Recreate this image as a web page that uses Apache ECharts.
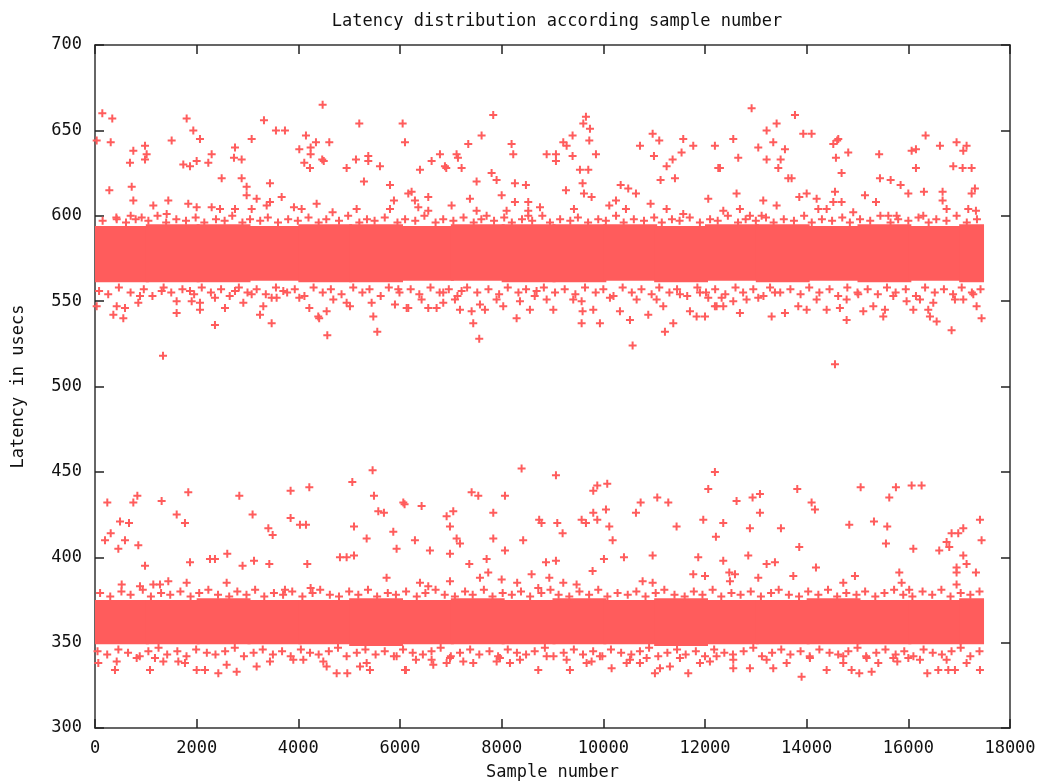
<!DOCTYPE html>
<html>
<head>
	<meta charset="utf-8">
	<title>Latency distribution</title>
	<script src="https://cdn.jsdelivr.net/npm/echarts@6/dist/echarts.min.js"></script>
	<style>
	html, body { margin: 0; height: 100%; background: #fff; }
	#main { width: 1042px; height: 781px; }
	</style>
</head>
<body>
	<div id="main"></div>
	<script>
		var xTicks = [0, 18000, 2000];
		var yTicks = [300, 700, 50];

		// dense core of each band: bin start, bin end, low edge, high edge
		var binStarts = [0, 1000, 2000, 3000, 4000, 5000, 6000, 7000, 8000, 9000, 10000, 11000, 12000, 13000, 14000, 15000, 16000, 17000];
		var lastSample = 17430;
		var upperHi = [594, 595, 595, 594, 595, 595, 594, 595, 595, 595, 595, 594, 595, 595, 594, 595, 594, 595];
		var upperLo = [561, 561, 561, 562, 561, 561, 562, 562, 561, 561, 562, 561, 562, 561, 562, 561, 562, 561];
		var lowerHi = [375, 375, 376, 375, 375, 376, 375, 376, 375, 376, 375, 376, 375, 375, 376, 375, 375, 376];
		var lowerLo = [349, 349, 349, 349, 349, 348, 349, 349, 349, 349, 349, 348, 349, 349, 349, 349, 349, 349];

		// crowded edges just outside each core
		var upperTopFringe = [
			[150,597],[420,599],[610,596],[800,598],[1050,597],[1230,600],[1400,596],[1600,598],[1790,597],[1980,599],[2150,596],[2380,598],
			[2550,597],[2700,600],[2900,596],[3050,598],[3250,597],[3400,599],[3600,596],[3800,598],[3990,597],[4200,599],[4400,596],
			[4550,598],[4800,597],[4980,600],[5200,596],[5350,598],[5500,597],[5700,599],[5950,596],[6100,598],[6300,597],[6480,600],
			[6700,596],[6850,598],[7050,597],[7250,599],[7450,596],[7600,598],[7850,597],[8050,599],[8200,596],[8400,598],[8600,597],
			[8800,600],[8950,596],[9150,598],[9350,597],[9500,599],[9700,596],[9900,598],[10050,597],[10250,600],[10400,596],[10600,598],
			[10800,597],[11000,599],[11150,596],[11350,598],[11500,597],[11700,599],[11900,596],[12100,598],[12250,597],[12450,600],
			[12650,596],[12800,598],[13000,597],[13200,599],[13350,596],[13550,598],[13750,597],[13950,600],[14100,596],[14300,598],
			[14500,597],[14700,599],[14850,596],[15050,598],[15250,597],[15450,600],[15650,596],[15800,598],[16000,597],[16200,599],
			[16400,596],[16550,598],[16750,597],[16950,600],[17150,596],[17350,598]
		];
		var upperBottomFringe = [
			[80,556],[260,554],[470,558],[700,555],[960,557],[1130,553],[1350,558],[1500,555],[1720,557],[1950,554],[2100,558],[2280,555],
			[2480,557],[2650,553],[2830,558],[3000,555],[3180,557],[3360,554],[3560,558],[3780,555],[3930,557],[4120,553],[4300,558],
			[4480,555],[4640,557],[4850,554],[5080,558],[5260,555],[5400,557],[5620,553],[5780,558],[5990,555],[6210,557],[6380,554],
			[6600,558],[6780,555],[6960,557],[7130,553],[7320,558],[7520,555],[7740,557],[7950,554],[8120,558],[8330,555],[8480,557],
			[8650,553],[8830,558],[9050,555],[9240,557],[9450,554],[9640,558],[9850,555],[10000,557],[10200,553],[10380,558],[10560,555],
			[10750,557],[10950,554],[11100,558],[11300,555],[11450,557],[11650,553],[11850,558],[12020,555],[12200,557],[12400,554],
			[12600,558],[12750,555],[12950,557],[13150,553],[13280,558],[13480,555],[13680,557],[13880,554],[14050,558],[14250,555],
			[14450,557],[14620,553],[14800,558],[15000,555],[15200,557],[15400,554],[15580,558],[15750,555],[15950,557],[16150,553],
			[16330,558],[16520,555],[16700,557],[16880,554],[17050,558],[17250,555],[17420,557]
		];
		var lowerTopFringe = [
			[100,379],[300,377],[520,380],[700,378],[940,381],[1100,377],[1300,379],[1480,378],[1680,380],[1880,377],[2050,379],[2230,381],
			[2420,378],[2640,377],[2800,380],[2980,378],[3150,381],[3330,377],[3520,379],[3700,378],[3880,380],[4080,377],[4280,379],
			[4430,381],[4620,378],[4800,377],[5000,380],[5180,378],[5370,381],[5550,377],[5760,379],[5920,378],[6120,380],[6330,377],
			[6500,379],[6700,381],[6880,378],[7080,377],[7280,380],[7430,378],[7650,381],[7820,377],[8020,379],[8200,378],[8380,380],
			[8560,377],[8780,379],[8960,381],[9120,378],[9330,377],[9530,380],[9720,378],[9900,381],[10080,377],[10280,379],[10480,378],
			[10650,380],[10830,377],[11030,379],[11200,381],[11400,378],[11600,377],[11780,380],[11950,378],[12150,381],[12320,377],
			[12520,379],[12700,378],[12900,380],[13100,377],[13300,379],[13450,381],[13650,378],[13850,377],[14030,380],[14230,378],
			[14420,381],[14600,377],[14780,379],[14980,378],[15150,380],[15350,377],[15530,379],[15720,381],[15900,378],[16080,377],
			[16280,380],[16470,378],[16650,381],[16830,377],[17030,379],[17220,378],[17400,380]
		];
		var lowerBottomFringe = [
			[50,345],[240,343],[460,346],[650,344],[880,342],[1050,345],[1250,347],[1420,343],[1620,345],[1800,342],[1990,346],[2200,344],
			[2370,343],[2560,345],[2750,347],[2930,342],[3120,344],[3300,346],[3500,343],[3680,345],[3850,342],[4050,346],[4230,344],
			[4400,343],[4600,345],[4780,347],[4950,342],[5150,344],[5320,346],[5520,343],[5700,345],[5880,342],[6060,346],[6250,344],
			[6450,343],[6620,345],[6800,347],[7000,342],[7180,344],[7380,346],[7560,343],[7760,345],[7930,342],[8120,346],[8300,344],
			[8480,343],[8650,345],[8850,347],[9020,342],[9220,344],[9420,346],[9600,343],[9800,345],[9980,342],[10150,346],[10350,344],
			[10550,343],[10720,345],[10900,347],[11080,342],[11260,344],[11450,346],[11620,343],[11820,345],[12000,342],[12180,346],
			[12380,344],[12550,343],[12760,345],[12950,347],[13120,342],[13320,344],[13500,346],[13680,343],[13880,345],[14060,342],
			[14250,346],[14450,344],[14620,343],[14820,345],[15000,347],[15170,342],[15370,344],[15550,346],[15750,343],[15920,345],
			[16100,342],[16300,346],[16480,344],[16660,343],[16850,345],[17030,347],[17220,342],[17400,345]
		];

		var upperAbove = [
			[144,660],[340,657],[33,644],[309,643],[1803,657],[1934,650],[2065,645],[984,641],[754,638],[1016,636],[984,633],[688,631],
			[1508,644],[1737,630],[1869,629],[2000,632],[2229,631],[2295,636],[2754,640],[2734,634],[2885,633],[3082,645],[3324,656],
			[3560,650],[3737,650],[4150,647],[4478,665],[4347,643],[4609,643],[4019,639],[4242,640],[4242,636],[4117,631],[4229,628],
			[4470,633],[4500,632],[5199,654],[6052,654],[6098,643],[5134,633],[5376,635],[5376,632],[4950,628],[5606,629],[5291,620],
			[5803,618],[6163,613],[282,615],[722,617],[754,609],[702,600],[2492,622],[2885,622],[2983,617],[2983,612],[3442,619],
			[3180,610],[3672,611],[3442,608],[1442,609],[1147,606],[1835,607],[2000,605],[2295,605],[2459,604],[2754,604],[3082,604],
			[3377,606],[3914,605],[4065,604],[4360,607],[4674,602],[5147,604],[5803,604],[5881,609],[1410,601],[427,598],[918,599],
			[7834,659],[7605,647],[7343,642],[6786,636],[6622,632],[6393,627],[7113,636],[7140,634],[6884,629],[6910,628],[7212,628],
			[7507,620],[7802,625],[7900,621],[8195,642],[8228,636],[8261,619],[8477,618],[8000,612],[8261,608],[8523,608],[7376,610],
			[7015,606],[6228,614],[6294,609],[6360,605],[6556,611],[6556,603],[7507,603],[7704,600],[8097,603],[8523,603],[8523,600],
			[8754,605],[8885,636],[9068,636],[9068,632],[9212,643],[9278,641],[9395,647],[9395,635],[9540,627],[9704,627],[9592,619],
			[9619,613],[9658,658],[9606,654],[9737,651],[9724,644],[9855,636],[9265,615],[9422,604],[9769,611],[10117,606],[10249,609],
			[10341,618],[10490,616],[10642,613],[10445,604],[10721,641],[10970,648],[11100,644],[10996,635],[11245,629],[11363,633],
			[11126,621],[11409,622],[11572,645],[11769,641],[11539,637],[12195,641],[12261,628],[11245,604],[10930,607],[11572,601],
			[12064,610],[12917,663],[13770,659],[13409,654],[13212,650],[12556,645],[13343,643],[13048,640],[13573,639],[12654,634],
			[13212,633],[13488,633],[12294,628],[13442,628],[13638,622],[13704,622],[13933,648],[14097,648],[14524,642],[14600,644],
			[14622,645],[14818,637],[14576,634],[14687,625],[15426,636],[15442,622],[15652,621],[15848,618],[16000,613],[16065,638],
			[16150,639],[16150,628],[16340,647],[16307,614],[16622,641],[16674,614],[16674,609],[16753,604],[16949,643],[17146,641],
			[17081,638],[16884,629],[17068,628],[17245,628],[17245,613],[17310,616],[17179,604],[17330,603],[12621,613],[13146,609],
			[13409,606],[13855,611],[14000,613],[14196,610],[14229,604],[14393,604],[14557,614],[14524,608],[14687,608],[15147,612],
			[15364,608],[12687,604],[12360,603],[12884,600],[13114,600],[14916,602],[15606,600],[15770,600],[16294,600]
		];

		var upperBelow = [
			[33,547],[361,542],[557,540],[427,547],[590,546],[852,549],[885,553],[1312,556],[1606,550],[1606,543],[1869,556],[1902,550],
			[2065,549],[2065,545],[2360,536],[2557,546],[2360,552],[2754,556],[2918,549],[3082,554],[3246,542],[3311,547],[3475,537],
			[3475,552],[3573,552],[3704,556],[4019,552],[4216,546],[4392,541],[4410,540],[4570,530],[4557,544],[4688,551],[4950,549],
			[5016,547],[5475,541],[5553,532],[5442,549],[5901,548],[5967,557],[6131,546],[6163,546],[6425,551],[6556,546],[6720,546],
			[6851,549],[6851,555],[7180,545],[7409,544],[7441,537],[7559,528],[7573,548],[7671,545],[7081,551],[7212,556],[7900,551],
			[8031,547],[8360,550],[8294,540],[8556,545],[8687,556],[8885,551],[9016,545],[9408,551],[9573,550],[9592,544],[9573,537],
			[9802,545],[9933,537],[10130,552],[10327,544],[10524,539],[10576,524],[10655,551],[10884,542],[11048,551],[11179,547],
			[11212,532],[11376,537],[11507,554],[11704,544],[11835,541],[12000,541],[12195,547],[11901,555],[12064,552],[12228,547],
			[12360,547],[12327,552],[12556,550],[12687,543],[12818,551],[13048,552],[13311,541],[13573,543],[13376,555],[13835,547],
			[14000,545],[14196,551],[14393,545],[14654,546],[14786,539],[14786,551],[15015,554],[15114,544],[15311,547],[15507,541],
			[15540,545],[15704,553],[15966,550],[16098,545],[16229,551],[16392,545],[16425,541],[16491,549],[16557,538],[16851,533],
			[16917,551],[17081,551],[17278,554],[17343,547],[17441,540],[1338,518],[14557,513]
		];

		var lowerAbove = [
			[242,432],[197,410],[309,414],[492,421],[669,420],[590,410],[459,405],[754,432],[833,436],[852,407],[984,395],[1311,433],
			[1607,425],[1770,420],[1835,438],[1869,397],[2262,399],[2360,399],[2602,402],[2839,436],[3100,425],[2903,395],[3128,398],
			[3410,417],[3495,413],[3429,396],[3848,439],[3848,423],[4032,419],[4150,419],[4216,441],[4176,396],[4819,400],[4950,400],
			[5062,444],[5095,418],[5095,401],[5344,411],[5461,451],[5488,436],[5573,427],[5684,426],[5736,388],[5868,415],[5933,405],
			[6065,432],[6090,431],[525,384],[885,383],[1147,384],[1279,384],[1442,386],[1803,385],[2590,385],[3737,381],[4242,382],
			[8392,452],[9068,448],[6425,430],[7409,438],[7540,436],[8065,436],[6917,424],[7048,427],[6983,418],[7835,426],[6294,410],
			[6589,404],[6983,402],[7114,411],[7180,408],[7835,411],[8065,404],[8423,410],[8738,422],[8784,420],[9094,420],[9199,414],
			[9573,422],[9658,420],[9802,426],[9881,422],[9802,439],[9881,442],[10077,443],[10052,428],[10117,418],[10183,410],[10642,426],
			[10734,432],[11061,435],[11278,432],[11441,418],[11966,422],[12064,440],[12195,450],[12215,412],[10012,399],[10406,400],
			[10970,401],[11867,400],[11769,390],[12000,389],[7363,396],[7704,399],[8872,397],[9068,398],[8589,390],[8937,388],[9789,392],
			[7573,388],[7736,391],[8000,387],[6983,386],[6393,385],[6556,383],[8305,385],[8720,382],[9212,385],[9474,384],[10773,386],
			[10970,385],[12621,433],[12936,435],[13081,437],[13081,426],[12359,420],[12884,417],[12851,401],[13494,417],[13815,440],
			[14097,432],[14163,428],[13854,406],[12359,398],[13212,396],[13376,397],[14183,394],[13737,389],[13048,388],[12478,391],
			[12491,386],[12590,390],[14838,419],[15062,441],[15324,421],[15560,408],[15585,418],[15625,435],[15756,441],[16065,442],
			[16261,442],[16098,405],[15822,391],[15868,385],[16017,381],[16608,404],[16753,409],[16805,406],[16851,414],[16982,414],
			[17081,417],[17081,401],[16949,394],[16949,391],[17146,396],[16949,384],[17330,391],[17409,422],[17441,410],[14720,385],
			[14950,389]
		];

		var lowerBelow = [
			[393,334],[427,339],[1082,334],[1180,341],[1344,339],[2000,334],[2164,334],[2426,332],[2787,333],[3180,336],[4098,340],
			[4557,336],[4754,332],[4963,332],[5213,336],[5409,334],[6098,334],[65,338],[820,341],[1639,339],[1770,338],[2590,337],
			[3442,339],[3901,340],[4491,339],[5344,338],[5933,342],[6117,334],[6655,337],[6917,338],[7245,339],[7441,338],[7901,339],
			[8163,338],[8720,334],[9278,340],[9343,334],[9671,338],[9769,339],[10163,335],[10458,338],[10720,338],[11015,332],[11671,332],
			[11901,338],[12097,339],[11310,336],[11114,335],[6314,340],[6622,340],[6983,341],[7966,341],[8360,340],[8885,342],[9933,342],
			[10524,340],[10852,341],[11507,341],[12228,342],[13900,330],[12556,335],[12884,335],[13343,335],[13606,338],[14393,334],
			[14720,338],[14884,334],[15035,332],[15278,333],[15409,338],[15783,339],[16000,341],[16373,332],[16589,334],[16786,334],
			[16917,334],[17146,338],[17409,334],[12556,340],[13212,340],[14064,341],[14720,342],[15180,341],[15704,341],[16229,340],
			[16753,340]
		];

		var red = '#ff5c5c';
		var monoFont = 'DejaVu Sans Mono';
		var plus = 'path://M3,0H5V3H8V5H5V8H3V5H0V3H3Z';

		var bands = [];
		for (var i = 0; i < binStarts.length; i++) {
			var end = i + 1 < binStarts.length ? binStarts[i + 1] : lastSample;
			bands.push([binStarts[i], end, upperLo[i], upperHi[i]]);
			bands.push([binStarts[i], end, lowerLo[i], lowerHi[i]]);
		}
		var points = upperAbove.concat(upperBelow, lowerAbove, lowerBelow,
			upperTopFringe, upperBottomFringe, lowerTopFringe, lowerBottomFringe);

		var main = document.getElementById('main');
		var myChart = echarts.init(main);

		var axisLine = { show: true, onZero: false, lineStyle: { color: '#333', width: 1.5 } };
		var tickIn = { show: true, inside: true, length: 9, lineStyle: { color: '#222', width: 1.5 } };
		var labelFont = { fontFamily: monoFont, fontSize: 17, color: '#111' };
		var plain = function (v) { return String(v); };

		var option = {
			animation: false,
			backgroundColor: '#fff',
			title: {
				text: 'Latency distribution according sample number',
				left: 552,
				textAlign: 'center',
				top: 8,
				textStyle: { fontFamily: monoFont, fontSize: 17, fontWeight: 'normal', color: '#111' }
			},
			grid: { left: 95, right: 32, top: 45, bottom: 53, outerBoundsMode: 'none' },
			xAxis: [{
				type: 'value', min: xTicks[0], max: xTicks[1], interval: xTicks[2],
				name: 'Sample number', nameLocation: 'middle', nameGap: 36,
				nameTextStyle: labelFont,
				axisLine: axisLine, axisTick: tickIn, splitLine: { show: false },
				axisLabel: Object.assign({ margin: 12, formatter: plain }, labelFont)
			}, {
				type: 'value', position: 'top', min: xTicks[0], max: xTicks[1], interval: xTicks[2],
				axisLine: axisLine, axisTick: tickIn, splitLine: { show: false },
				axisLabel: { show: false }
			}],
			yAxis: [{
				type: 'value', min: yTicks[0], max: yTicks[1], interval: yTicks[2],
				name: 'Latency in usecs', nameLocation: 'middle', nameRotate: 90, nameGap: 68,
				nameTextStyle: labelFont,
				axisLine: axisLine, axisTick: tickIn, splitLine: { show: false },
				axisLabel: Object.assign({ margin: 13, formatter: plain }, labelFont)
			}, {
				type: 'value', position: 'right', min: yTicks[0], max: yTicks[1], interval: yTicks[2],
				axisLine: axisLine, axisTick: tickIn, splitLine: { show: false },
				axisLabel: { show: false }
			}],
			series: [{
				type: 'custom',
				data: bands,
				encode: { x: [0, 1], y: [2, 3] },
				silent: true,
				renderItem: function (params, api) {
					var a = api.coord([api.value(0), api.value(3)]);
					var b = api.coord([api.value(1), api.value(2)]);
					return {
						type: 'rect',
						shape: { x: a[0], y: a[1], width: b[0] - a[0] + 3, height: b[1] - a[1] },
						style: { fill: red }
					};
				}
			}, {
				type: 'scatter',
				data: points,
				symbol: plus,
				symbolSize: 8,
				itemStyle: { color: red, opacity: 1 },
				silent: true
			}]
		};
		myChart.setOption(option);
	</script>
</body>
</html>
